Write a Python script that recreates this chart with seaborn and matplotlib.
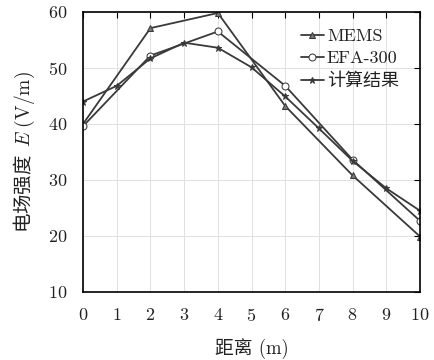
import matplotlib
matplotlib.use("Agg")
import matplotlib.pyplot as plt
import seaborn as sns
import pandas as pd

# 数据
x_even = [0, 2, 4, 6, 8, 10]
x_all = [0, 1, 2, 3, 4, 5, 6, 7, 8, 9, 10]
mems = [40.0, 57.1, 59.8, 43.2, 30.8, 19.9]
efa300 = [39.6, 52.2, 56.5, 46.8, 33.6, 22.7]
calc = [44.0, 46.8, 51.7, 54.5, 53.6, 50.1, 44.9, 39.2, 33.4, 28.5, 24.5]

sns.set_theme(style="whitegrid")
plt.rcParams['font.family'] = ['cmr10', 'Noto Sans CJK SC']
plt.rcParams['mathtext.fontset'] = 'cm'
plt.rcParams['axes.formatter.use_mathtext'] = True
plt.rcParams['axes.unicode_minus'] = False

fig = plt.figure(figsize=(4.35, 3.6), dpi=100)
ax = fig.add_axes([0.191, 0.189, 0.7745, 0.778])

c = '#3a3a3a'
df1 = pd.DataFrame({'x': x_even, 'y': mems})
df2 = pd.DataFrame({'x': x_even, 'y': efa300})
df3 = pd.DataFrame({'x': x_all, 'y': calc})
sns.lineplot(data=df1, x='x', y='y', ax=ax, color=c, lw=1.3, marker='^',
             markersize=5, markerfacecolor='#777777', markeredgecolor=c, label='MEMS')
sns.lineplot(data=df2, x='x', y='y', ax=ax, color=c, lw=1.3, marker='o',
             markersize=5, markerfacecolor='white', markeredgecolor=c, label='EFA-300')
sns.lineplot(data=df3, x='x', y='y', ax=ax, color=c, lw=1.3, marker='*',
             markersize=5, markerfacecolor=c, markeredgecolor=c, label='计算结果')

ax.set_xlim(0, 10)
ax.set_ylim(10, 60)
ax.set_xticks(range(0, 11))
ax.set_yticks(range(10, 61, 10))
ax.grid(True, color='#e0e0e0', lw=0.7)
ax.set_facecolor('white')
for s in ax.spines.values():
    s.set_color('black')
    s.set_linewidth(1.2)
ax.tick_params(direction='in', length=4, width=0.8, colors='black',
               top=True, right=True, labelsize=13)
ax.tick_params(axis='x', pad=11)
ax.tick_params(axis='y', pad=11)
for lab in ax.get_xticklabels() + ax.get_yticklabels():
    lab.set_color('#222222')

ax.set_xlabel('距离 (m)', fontsize=13.5, color='#222222', labelpad=10)
# 中文部分用 CJK 字体作为 mathtext 的默认字体
ax.set_ylabel(r'电场强度 $\;E\;\mathrm{(V/m)}$', fontsize=14, color='#222222',
              labelpad=8, fontfamily='Noto Sans CJK SC')

leg = ax.legend(loc='upper right', frameon=False, fontsize=13, handlelength=1.3,
                handletextpad=0.15, borderaxespad=0.3, labelspacing=0.35,
                bbox_to_anchor=(0.975, 0.985))
for t in leg.get_texts():
    t.set_color('#222222')

fig.savefig('out.png', dpi=100)
